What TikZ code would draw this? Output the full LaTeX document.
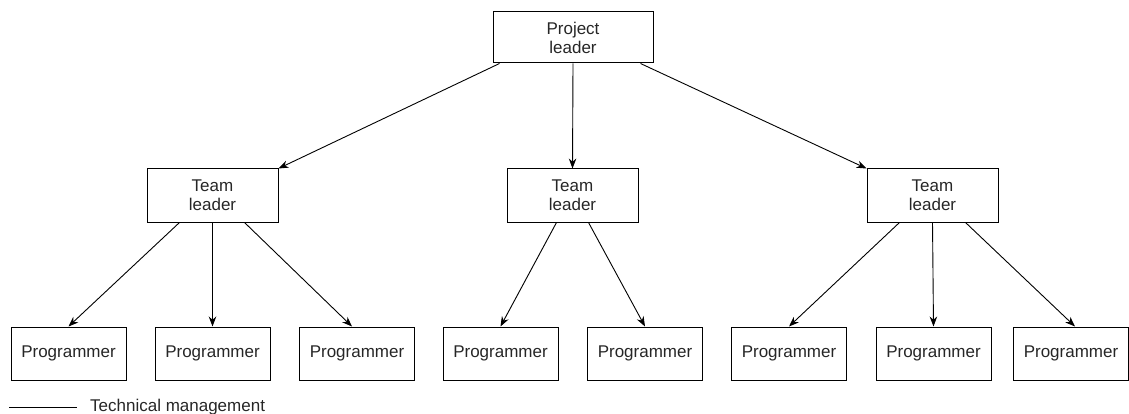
\documentclass[tikz,border=0pt]{standalone}
\usepackage{fontspec}
\setmainfont{Liberation Sans}
\usetikzlibrary{arrows.meta}
\begin{document}
\begin{tikzpicture}[x=1pt,y=-1pt,
    box/.style={draw,line width=1pt,align=center,inner sep=0pt,
      font=\fontsize{17}{19}\selectfont,text=black!85},
    lead/.style={box,minimum width=131pt,minimum height=53pt},
    prog/.style={box,minimum width=115pt,minimum height=53pt}]
  \useasboundingbox (0,0) rectangle (1129,414);
  \node[box,minimum width=160pt,minimum height=51pt] (pl) at (573,37.5) {Project\\leader};
  \node[lead] (tl) at (212.5,195.5) {Team\\leader};
  \node[lead] (tm) at (572.5,195.5) {Team\\leader};
  \node[lead] (tr) at (932.5,195.5) {Team\\leader};
  \draw
    (68.5,353.5) node[prog] (p1) {Programmer}
    (212.5,353.5) node[prog] (p2) {Programmer}
    (357,353.5) node[prog] (p3) {Programmer}
    (500.5,353.5) node[prog] (p4) {Programmer}
    (645,353.5) node[prog] (p5) {Programmer}
    (789,353.5) node[prog] (p6) {Programmer}
    (933.5,353.5) node[prog] (p7) {Programmer}
    (1071,353.5) node[prog] (p8) {Programmer};
  \begin{scope}[-{Stealth[length=10pt,width=7.5pt]},line width=0.9pt]
    \draw ([xshift=7pt]pl.south west) to (tl.north east);
    \draw (pl.south) to (tm.north);
    \draw ([xshift=-13pt]pl.south east) to (tr.north west);
    \draw ([xshift=33pt]tl.south west) to (p1.north);
    \draw (tl.south) to (p2.north);
    \draw ([xshift=-34pt]tl.south east) to ([xshift=-5pt]p3.north);
    \draw ([xshift=50pt]tm.south west) to (p4.north);
    \draw ([xshift=-50pt]tm.south east) to (p5.north);
    \draw ([xshift=33pt]tr.south west) to (p6.north);
    \draw (tr.south) to (p7.north);
    \draw ([xshift=-33pt]tr.south east) to ([xshift=4pt]p8.north);
  \end{scope}
  % legend
  \coordinate (la) at (9,407);
  \coordinate (lb) at (77,407);
  \draw[line width=0.8pt] (la) -- (lb);
  \node[anchor=west,inner sep=0pt,font=\fontsize{17}{19}\selectfont,text=black!85]
    (lt) at (90,407) {Technical management};
\end{tikzpicture}
\end{document}
